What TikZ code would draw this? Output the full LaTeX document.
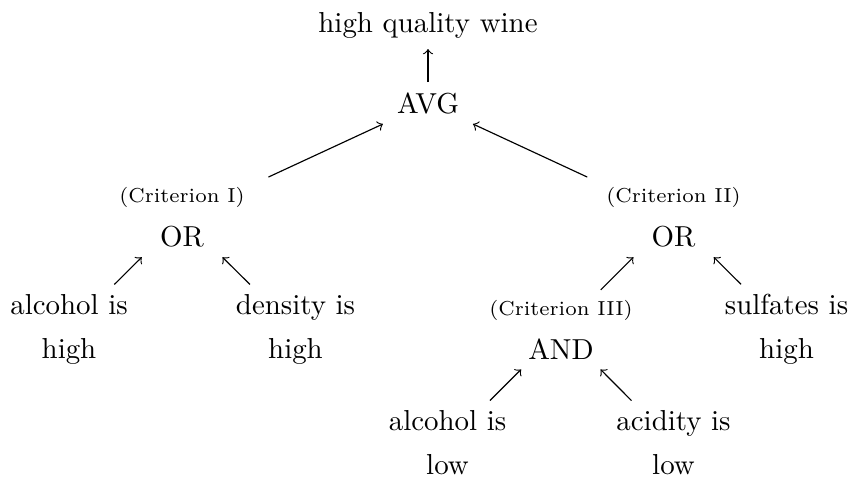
\documentclass[tikz,border=0pt]{standalone}
\begin{document}
\begin{tikzpicture}[x=0.34606pt, y=-0.34606pt,
  every node/.style={align=center, minimum width=64pt},
  gate/.style={align=center},
  leaf/.style={align=center},
  link/.style={->}]
\useasboundingbox (0,0) rectangle (851,476);

% root and aggregation
\node (wine) at (428,25.8) {high quality wine};
\node (avg)  at (428,103.1) {AVG};

% first level gates
\node[gate] (or1) at (182,217.1) {{\scriptsize (Criterion I)}\\[3.2pt]OR};
\node[gate] (or2) at (673.5,217.1) {{\scriptsize (Criterion II)}\\[3.2pt]OR};

% second level
\node[leaf] (alchigh) at (69,329.6)    {alcohol is\\[3.2pt]high};
\node[leaf] (denshigh) at (295.5,329.6) {density is\\[3.2pt]high};
\node[gate] (and) at (561,329.6) {{\scriptsize (Criterion III)}\\[3.2pt]AND};
\node[leaf] (sulfhigh) at (786.5,329.6) {sulfates is\\[3.2pt]high};

% third level
\node[leaf] (alclow) at (447.5,442.9) {alcohol is\\[3.2pt]low};
\node[leaf] (acidlow) at (673.5,442.9) {acidity is\\[3.2pt]low};

% edges point from child to parent
\draw[link] (avg) -- (wine);
\draw[link] (or1) -- (avg);
\draw[link] (or2) -- (avg);
\draw[link] (alchigh) -- (or1);
\draw[link] (denshigh) -- (or1);
\draw[link] (and) -- (or2);
\draw[link] (sulfhigh) -- (or2);
\draw[link] (alclow) -- (and);
\draw[link] (acidlow) -- (and);
\end{tikzpicture}
\end{document}
